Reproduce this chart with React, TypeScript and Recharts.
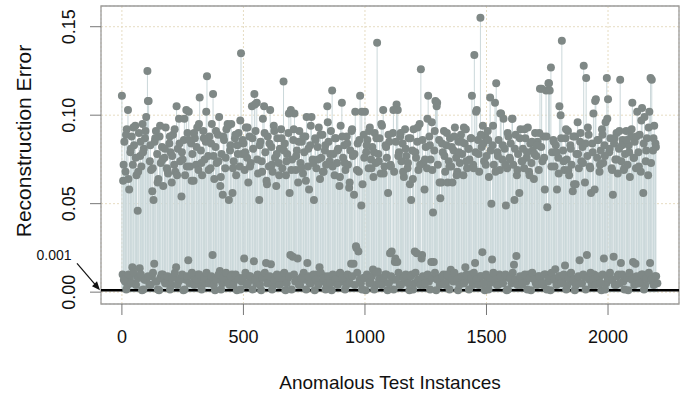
import React from "react";
import {
  ScatterChart,
  Scatter,
  XAxis,
  YAxis,
  CartesianGrid,
  ReferenceLine,
  ReferenceArea,
  ErrorBar,
} from "recharts";

// high reconstruction errors, one reading every HIGH_STEP instances
const HIGH_STEP = 5;
const highErrors = [
  0.111, 0.063, 0.085, 0.068, 0.092, 0.103, 0.058, 0.079, 0.088, 0.072,
  0.083, 0.094, 0.066, 0.046, 0.09, 0.077, 0.071, 0.095, 0.081, 0.087,
  0.099, 0.125, 0.108, 0.074, 0.069, 0.057, 0.052, 0.085, 0.091, 0.078,
  0.064, 0.088, 0.073, 0.082, 0.06, 0.076, 0.093, 0.07, 0.067, 0.084,
  0.079, 0.062, 0.089, 0.072, 0.068, 0.105, 0.081, 0.098, 0.074, 0.054,
  0.075, 0.086, 0.066, 0.103, 0.09, 0.102, 0.071, 0.084, 0.078, 0.063,
  0.087, 0.072, 0.093, 0.069, 0.11, 0.08, 0.066, 0.091, 0.075, 0.085,
  0.122, 0.077, 0.088, 0.07, 0.095, 0.112, 0.064, 0.082, 0.073, 0.089,
  0.099, 0.06, 0.078, 0.055, 0.086, 0.07, 0.092, 0.095, 0.052, 0.08,
  0.095, 0.056, 0.074, 0.087, 0.066, 0.083, 0.09, 0.071, 0.135, 0.078,
  0.084, 0.069, 0.093, 0.076, 0.062, 0.088, 0.073, 0.105, 0.081, 0.112,
  0.091, 0.107, 0.067, 0.052, 0.085, 0.074, 0.098, 0.105, 0.079, 0.063,
  0.088, 0.071, 0.103, 0.082, 0.068, 0.094, 0.076, 0.06, 0.087, 0.073,
  0.081, 0.092, 0.07, 0.119, 0.084, 0.066, 0.078, 0.09, 0.056, 0.103,
  0.075, 0.086, 0.101, 0.069, 0.08, 0.062, 0.091, 0.073, 0.085, 0.067,
  0.079, 0.088, 0.099, 0.071, 0.058, 0.083, 0.099, 0.075, 0.052, 0.087,
  0.07, 0.082, 0.093, 0.064, 0.076, 0.089, 0.068, 0.08, 0.072, 0.105,
  0.085, 0.074, 0.091, 0.114, 0.078, 0.066, 0.087, 0.073, 0.081, 0.06,
  0.094, 0.107, 0.076, 0.083, 0.069, 0.088, 0.072, 0.059, 0.08, 0.091,
  0.077, 0.055, 0.102, 0.025, 0.084, 0.068, 0.111, 0.049, 0.061, 0.089,
  0.102, 0.079, 0.086, 0.07, 0.093, 0.075, 0.082, 0.065, 0.09, 0.073,
  0.141, 0.078, 0.087, 0.067, 0.094, 0.103, 0.071, 0.083, 0.076, 0.056,
  0.085, 0.072, 0.023, 0.09, 0.068, 0.019, 0.106, 0.103, 0.079, 0.088,
  0.074, 0.084, 0.065, 0.092, 0.077, 0.07, 0.087, 0.061, 0.052, 0.08,
  0.092, 0.023, 0.076, 0.085, 0.069, 0.095, 0.126, 0.021, 0.073, 0.058,
  0.082, 0.07, 0.111, 0.088, 0.075, 0.096, 0.045, 0.08, 0.108, 0.105,
  0.072, 0.086, 0.053, 0.062, 0.079, 0.091, 0.068, 0.083, 0.062, 0.074,
  0.087, 0.071, 0.062, 0.08, 0.093, 0.076, 0.068, 0.085, 0.073, 0.089,
  0.078, 0.066, 0.084, 0.092, 0.07, 0.081, 0.075, 0.087, 0.111, 0.072,
  0.134, 0.079, 0.103, 0.086, 0.068, 0.155, 0.082, 0.094, 0.074, 0.088,
  0.077, 0.091, 0.065, 0.11, 0.05, 0.083, 0.072, 0.107, 0.118, 0.079,
  0.086, 0.069, 0.101, 0.075, 0.098, 0.081, 0.049, 0.07, 0.088, 0.076,
  0.084, 0.098, 0.072, 0.052, 0.089, 0.066, 0.078, 0.056, 0.092, 0.074,
  0.081, 0.07, 0.087, 0.076, 0.093, 0.068, 0.084, 0.073, 0.08, 0.064,
  0.09, 0.077, 0.085, 0.069, 0.115, 0.082, 0.074, 0.088, 0.058, 0.114,
  0.048, 0.118, 0.114, 0.127, 0.079, 0.086, 0.071, 0.083, 0.058, 0.076,
  0.105, 0.1, 0.142, 0.08, 0.069, 0.087, 0.075, 0.091, 0.066, 0.083,
  0.072, 0.057, 0.061, 0.088, 0.078, 0.096, 0.07, 0.085, 0.074, 0.082,
  0.128, 0.062, 0.121, 0.077, 0.089, 0.071, 0.056, 0.084, 0.101, 0.058,
  0.109, 0.076, 0.086, 0.068, 0.08, 0.092, 0.073, 0.083, 0.096, 0.121,
  0.109, 0.079, 0.087, 0.07, 0.055, 0.084, 0.075, 0.09, 0.067, 0.081,
  0.12, 0.074, 0.086, 0.069, 0.078, 0.091, 0.072, 0.083, 0.065, 0.088,
  0.107, 0.076, 0.085, 0.07, 0.102, 0.079, 0.089, 0.068, 0.104, 0.056,
  0.099, 0.074, 0.087, 0.066, 0.102, 0.121, 0.12, 0.08, 0.094, 0.084,
];

// second group of high errors, one every HIGH_B_STEP instances from HIGH_B_START
const HIGH_B_STEP = 10;
const HIGH_B_START = 7;
const highErrorsB = [
  0.072, 0.089, 0.064, 0.081, 0.093, 0.076, 0.068, 0.085, 0.079, 0.091,
  0.108, 0.083, 0.07, 0.087, 0.062, 0.094, 0.075, 0.081, 0.069, 0.088,
  0.077, 0.092, 0.066, 0.084, 0.079, 0.098, 0.071, 0.086, 0.063, 0.09,
  0.082, 0.095, 0.073, 0.087, 0.102, 0.069, 0.084, 0.077, 0.091, 0.074,
  0.065, 0.088, 0.076, 0.094, 0.083, 0.07, 0.089, 0.078, 0.097, 0.086,
  0.079, 0.093, 0.071, 0.087, 0.106, 0.075, 0.083, 0.068, 0.09, 0.061,
  0.084, 0.072, 0.091, 0.078, 0.066, 0.087, 0.08, 0.074, 0.101, 0.069,
  0.092, 0.077, 0.085, 0.07, 0.088, 0.063, 0.081, 0.094, 0.073, 0.086,
  0.075, 0.089, 0.068, 0.083, 0.096, 0.078, 0.071, 0.087, 0.08, 0.065,
  0.088, 0.073, 0.084, 0.062, 0.092, 0.078, 0.069, 0.086, 0.102, 0.076,
  0.083, 0.091, 0.07, 0.079, 0.087, 0.074, 0.095, 0.067, 0.082, 0.089,
  0.071, 0.103, 0.085, 0.077, 0.09, 0.068, 0.081, 0.073, 0.087, 0.064,
  0.079, 0.093, 0.072, 0.086, 0.075, 0.098, 0.083, 0.069, 0.091, 0.107,
  0.062, 0.084, 0.077, 0.09, 0.071, 0.082, 0.088, 0.066, 0.079, 0.085,
  0.093, 0.074, 0.081, 0.087, 0.07, 0.102, 0.078, 0.089, 0.084, 0.072,
  0.086, 0.08, 0.094, 0.068, 0.077, 0.101, 0.083, 0.072, 0.09, 0.075,
  0.098, 0.081, 0.069, 0.087, 0.074, 0.092, 0.079, 0.066, 0.085, 0.078,
  0.083, 0.09, 0.115, 0.076, 0.088, 0.118, 0.071, 0.085, 0.079, 0.067,
  0.087, 0.074, 0.092, 0.069, 0.081, 0.088, 0.061, 0.078, 0.09, 0.073,
  0.084, 0.093, 0.07, 0.079, 0.108, 0.086, 0.072, 0.089, 0.077, 0.098,
  0.081, 0.069, 0.087, 0.075, 0.091, 0.083, 0.07, 0.086, 0.079, 0.092,
  0.076, 0.088, 0.071, 0.097, 0.084, 0.08, 0.093, 0.073, 0.087, 0.082,
];

// near-zero errors, one reading every LOW_STEP instances, two interleaved groups
const LOW_STEP = 10;
const LOW_START = 3;
const lowErrors = [
  0.01, 0.006, 0.004, 0.008, 0.014, 0.005, 0.009, 0.0135, 0.001, 0.007,
  0.008, 0.004, 0.009, 0.016, 0.006, 0.001, 0.01, 0.007, 0.005, 0.008,
  0.004, 0.009, 0.014, 0.006, 0.008, 0.001, 0.007, 0.018, 0.005, 0.009,
  0.006, 0.01, 0.004, 0.008, 0.005, 0.009, 0.007, 0.021, 0.001, 0.008,
  0.012, 0.005, 0.009, 0.006, 0.004, 0.01, 0.007, 0.001, 0.008, 0.006,
  0.019, 0.004, 0.009, 0.007, 0.0175, 0.005, 0.008, 0.001, 0.01, 0.0165,
  0.006, 0.0157, 0.004, 0.009, 0.007, 0.005, 0.01, 0.001, 0.008, 0.021,
  0.02, 0.006, 0.019, 0.004, 0.009, 0.007, 0.0165, 0.005, 0.008, 0.001,
  0.01, 0.014, 0.006, 0.009, 0.004, 0.007, 0.001, 0.008, 0.005, 0.01,
  0.006, 0.009, 0.004, 0.007, 0.016, 0.016, 0.026, 0.023, 0.005, 0.008,
  0.001, 0.009, 0.006, 0.0128, 0.004, 0.0117, 0.008, 0.005, 0.01, 0.001,
  0.022, 0.007, 0.017, 0.017, 0.004, 0.009, 0.006, 0.008, 0.001, 0.01,
  0.005, 0.022, 0.007, 0.019, 0.004, 0.009, 0.006, 0.017, 0.017, 0.001,
  0.008, 0.005, 0.01, 0.004, 0.007, 0.0126, 0.006, 0.009, 0.001, 0.008,
  0.005, 0.014, 0.007, 0.01, 0.004, 0.0165, 0.006, 0.009, 0.0226, 0.001,
  0.008, 0.005, 0.0185, 0.007, 0.004, 0.01, 0.006, 0.009, 0.001, 0.008,
  0.005, 0.0155, 0.0204, 0.007, 0.004, 0.009, 0.006, 0.01, 0.001, 0.008,
  0.005, 0.009, 0.007, 0.004, 0.01, 0.006, 0.001, 0.008, 0.013, 0.005,
  0.009, 0.007, 0.015, 0.004, 0.01, 0.006, 0.001, 0.008, 0.018, 0.005,
  0.009, 0.021, 0.007, 0.004, 0.01, 0.006, 0.008, 0.001, 0.019, 0.005,
  0.009, 0.007, 0.02, 0.004, 0.01, 0.0165, 0.006, 0.008, 0.001, 0.009,
  0.017, 0.016, 0.005, 0.007, 0.01, 0.004, 0.008, 0.0165, 0.006, 0.009, 0.005,
];

const LOW_B_START = 8;
const lowErrorsB = [
  0.007, 0.0015, 0.01, 0.005, 0.011, 0.004, 0.008, 0.01, 0.0015, 0.007,
  0.009, 0.004, 0.011, 0.006, 0.0015, 0.008, 0.01, 0.005, 0.009, 0.0015,
  0.008, 0.011, 0.004, 0.007, 0.01, 0.0015, 0.009, 0.005, 0.011, 0.004,
  0.007, 0.01, 0.0015, 0.008, 0.011, 0.005, 0.009, 0.004, 0.007, 0.01,
  0.0015, 0.008, 0.011, 0.005, 0.009, 0.004, 0.01, 0.007, 0.0015, 0.008,
  0.011, 0.005, 0.009, 0.0015, 0.007, 0.01, 0.004, 0.008, 0.011, 0.005,
  0.009, 0.0015, 0.007, 0.01, 0.004, 0.008, 0.011, 0.005, 0.009, 0.0015,
  0.01, 0.007, 0.004, 0.008, 0.011, 0.0015, 0.009, 0.005, 0.01, 0.007,
  0.004, 0.011, 0.008, 0.0015, 0.009, 0.005, 0.01, 0.007, 0.004, 0.011,
  0.008, 0.0015, 0.01, 0.005, 0.009, 0.004, 0.011, 0.007, 0.0015, 0.008,
  0.01, 0.005, 0.009, 0.0015, 0.011, 0.007, 0.004, 0.008, 0.01, 0.005,
  0.009, 0.0015, 0.007, 0.011, 0.004, 0.008, 0.01, 0.005, 0.009, 0.0015,
  0.011, 0.007, 0.004, 0.009, 0.005, 0.01, 0.0015, 0.008, 0.011, 0.007,
  0.004, 0.009, 0.005, 0.01, 0.0015, 0.008, 0.011, 0.007, 0.004, 0.009,
  0.005, 0.01, 0.0015, 0.008, 0.011, 0.007, 0.004, 0.009, 0.005, 0.01,
  0.0015, 0.008, 0.011, 0.007, 0.004, 0.009, 0.005, 0.01, 0.0015, 0.008,
  0.011, 0.007, 0.004, 0.009, 0.005, 0.01, 0.0015, 0.008, 0.011, 0.007,
  0.004, 0.009, 0.005, 0.01, 0.0015, 0.008, 0.011, 0.007, 0.004, 0.009,
  0.005, 0.01, 0.0015, 0.008, 0.011, 0.007, 0.004, 0.009, 0.005, 0.01,
  0.0015, 0.008, 0.011, 0.007, 0.004, 0.009, 0.005, 0.01, 0.0015, 0.008,
  0.011, 0.007, 0.004, 0.009, 0.005, 0.01, 0.0015, 0.008, 0.011, 0.007,
  0.004, 0.009, 0.005, 0.01, 0.0015, 0.008, 0.011, 0.007, 0.004, 0.009,
];

const xTicks = [0, 500, 1000, 1500, 2000];
const yTicks = [0, 0.05, 0.1, 0.15];
const THRESHOLD = 0.001;
const THRESHOLD_LABEL = "0.001";

const X_DOMAIN: [number, number] = [-86, 2292];
const Y_DOMAIN: [number, number] = [-0.0067, 0.1617];

const DOT = "#7f8886";
const STEM = "#cbd8da";
const FONT = "'Liberation Sans', Arial, sans-serif";

// one series: every instance gets a stem (y error bar down to 0); the threshold is an
// x error bar on an invisible anchor point, so all dots are drawn over stems and line
const point = (inst: number, err: number) => ({ inst, err, stem: [err, 0], span: [0, 0], anchor: false });
const allData = [
  {
    inst: X_DOMAIN[0],
    err: THRESHOLD,
    stem: [0, 0],
    span: [0, X_DOMAIN[1] - X_DOMAIN[0]],
    anchor: true,
  },
  ...highErrors.map((err, i) => point(i * HIGH_STEP, err)),
  ...highErrorsB.map((err, i) => point(HIGH_B_START + i * HIGH_B_STEP, err)),
  ...lowErrors.map((err, i) => point(LOW_START + i * LOW_STEP, err)),
  ...lowErrorsB.map((err, i) => point(LOW_B_START + i * LOW_STEP, err)),
];

const dotShape = (p: any) =>
  p.payload && p.payload.anchor ? <g /> : <circle cx={p.cx} cy={p.cy} r={4} fill={DOT} />;

const XTick = ({ x, y, payload }: any) => (
  <text x={x} y={y + 28} textAnchor="middle" fontSize={18} fill="#111" fontFamily={FONT}>
    {payload.value}
  </text>
);

const YTick = ({ x, y, payload }: any) => (
  <text
    transform={`translate(${x - 15}, ${y}) rotate(-90)`}
    textAnchor="middle"
    fontSize={18}
    fill="#111"
    fontFamily={FONT}
  >
    {Number(payload.value).toFixed(2)}
  </text>
);

const XTitle = ({ viewBox }: any) => (
  <text
    x={viewBox.x + viewBox.width / 2}
    y={viewBox.y + 85}
    textAnchor="middle"
    fontSize={19}
    fill="#111"
    fontFamily={FONT}
  >
    Anomalous Test Instances
  </text>
);

const YTitle = ({ viewBox }: any) => (
  <text
    transform={`translate(${viewBox.x + 31}, ${viewBox.y + 135}) rotate(-90)`}
    textAnchor="middle"
    fontSize={21}
    fill="#111"
    fontFamily={FONT}
  >
    Reconstruction Error
  </text>
);

// "0.001" note with an arrow pointing at the threshold line
const ThresholdNote = ({ viewBox }: any) => {
  const x0 = viewBox.x;
  const y0 = viewBox.y;
  return (
    <g>
      <text x={x0 - 47} y={y0 - 30} textAnchor="middle" fontSize={14} fill="#111" fontFamily={FONT}>
        {THRESHOLD_LABEL}
      </text>
      <line x1={x0 - 24} y1={y0 - 27} x2={x0 - 6} y2={y0 - 6} stroke="#111" strokeWidth={1.2} />
      <polygon points={`${x0 - 1},${y0} ${x0 - 9},${y0 - 4} ${x0 - 4},${y0 - 9}`} fill="#111" />
    </g>
  );
};

export default function App() {
  return (
    <div style={{ position: "absolute", left: 0, top: 0, width: 688, height: 397, background: "#fff" }}>
      <ScatterChart width={688} height={397} margin={{ top: 6, right: 9, bottom: 0, left: 0 }}>
        <CartesianGrid stroke="#e6dcc2" strokeDasharray="2 2" />
        <XAxis
          type="number"
          dataKey="inst"
          domain={X_DOMAIN}
          ticks={xTicks}
          allowDataOverflow
          axisLine={false}
          tickLine={{ stroke: "#777" }}
          tickSize={11}
          tickMargin={0}
          tick={<XTick />}
          height={93}
          label={<XTitle />}
        />
        <YAxis
          type="number"
          dataKey="err"
          domain={Y_DOMAIN}
          ticks={yTicks}
          allowDataOverflow
          axisLine={false}
          tickLine={{ stroke: "#777" }}
          tickSize={11}
          tickMargin={0}
          tick={<YTick />}
          width={101}
          label={<YTitle />}
        />
        <ReferenceArea
          x1={X_DOMAIN[0]}
          x2={X_DOMAIN[1]}
          y1={Y_DOMAIN[0]}
          y2={Y_DOMAIN[1]}
          fill="none"
          stroke="#9c9c9c"
          strokeWidth={1.3}
        />
        <ReferenceLine y={THRESHOLD} stroke="none" label={<ThresholdNote />} />
        <Scatter data={allData} shape={dotShape} isAnimationActive={false}>
          <ErrorBar dataKey="stem" direction="y" width={0} stroke={STEM} strokeWidth={1} isAnimationActive={false} />
          <ErrorBar dataKey="span" direction="x" width={0} stroke="#000" strokeWidth={2.5} isAnimationActive={false} />
        </Scatter>
      </ScatterChart>
    </div>
  );
}
